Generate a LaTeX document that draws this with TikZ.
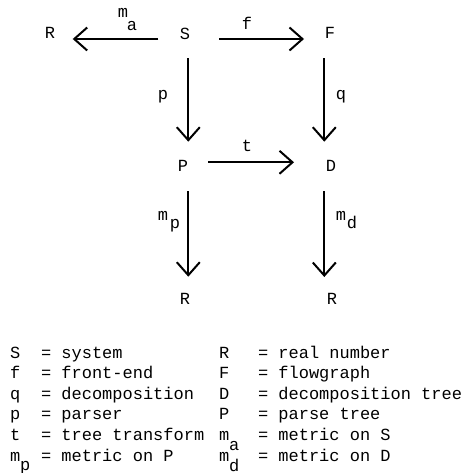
\documentclass[tikz,border=0pt]{standalone}
\usepackage{fontspec}
\newfontfamily\tw{Liberation Mono}
\usetikzlibrary{arrows.meta}
\begin{document}
\begin{tikzpicture}[x=1pt,y=-1pt,
  every node/.style={inner sep=0pt, outer sep=0pt, font=\tw\fontsize{17}{17}\selectfont},
  obj/.style={anchor=center},
  lab/.style={anchor=center},
  leg/.style={anchor=base west},
  arr/.style={line width=2pt, -{Straight Barb[length=13pt,width=23pt]}}]
\useasboundingbox (0,0) rectangle (468,473);
% objects
\node[obj] (R1) at (50,33) {R};
\node[obj] (S)  at (185,34) {S};
\node[obj] (F)  at (330,33) {F};
\node[obj] (P)  at (183,166) {P};
\node[obj] (D)  at (331,166) {D};
\node[obj] (R2) at (185,299) {R};
\node[obj] (R3) at (332,299) {R};
% arrows
\draw[arr] ([shift={(-26.7,5)}]S.center) -- ([shift={(22.7,6)}]R1.center);
\draw[arr] ([shift={(34,5)}]S.center) -- ([shift={(-26,6)}]F.center);
\draw[arr] ([shift={(3.3,24.3)}]S.center) -- ([shift={(5.3,-24.3)}]P.center);
\draw[arr] ([shift={(-5.7,25.3)}]F.center) -- ([shift={(-6.7,-24.3)}]D.center);
\draw[arr] ([shift={(25.3,-3.7)}]P.center) -- ([shift={(-37,-3.7)}]D.center);
\draw[arr] ([shift={(5.3,25)}]P.center) -- ([shift={(3.3,-22.3)}]R2.center);
\draw[arr] ([shift={(-6.7,25)}]D.center) -- ([shift={(-7.7,-22)}]R3.center);
% labels
\node[lab] (lma) at (123,13) {m};
\node[lab] (lmasub) at (132,26) {a};
\node[lab] (lf) at (247,23) {f};
\node[lab] (lp) at (163,97) {p};
\node[lab] (lq) at (341,97) {q};
\node[lab] (lt) at (247,146) {t};
\node[lab] (lmp) at (163,216) {m};
\node[lab] (lmpsub) at (175,226) {p};
\node[lab] (lmd) at (341,216) {m};
\node[lab] (lmdsub) at (352,222) {d};
% legend left
\node[leg] (ls1) at (10,358) {S};
\node[leg] (le1) at (41,358) {= system};
\node[leg] (ls2) at (10,378.6) {f};
\node[leg] (le2) at (41,378.6) {= front-end};
\node[leg] (ls3) at (10,399.2) {q};
\node[leg] (le3) at (41,399.2) {= decomposition};
\node[leg] (ls4) at (10,419.8) {p};
\node[leg] (le4) at (41,419.8) {= parser};
\node[leg] (ls5) at (10,440.4) {t};
\node[leg] (le5) at (41,440.4) {= tree transform};
\node[leg] (ls6) at (10,461) {m};
\node[leg] (ls6sub) at (20,470) {p};
\node[leg] (le6) at (41,461) {= metric on P};
% legend right
\node[leg] (rs1) at (219,358) {R};
\node[leg] (re1) at (258,358) {= real number};
\node[leg] (rs2) at (219,378.6) {F};
\node[leg] (re2) at (258,378.6) {= flowgraph};
\node[leg] (rs3) at (219,399.2) {D};
\node[leg] (re3) at (258,399.2) {= decomposition tree};
\node[leg] (rs4) at (219,419.8) {P};
\node[leg] (re4) at (258,419.8) {= parse tree};
\node[leg] (rs5) at (219,440.4) {m};
\node[leg] (rs5sub) at (229,450) {a};
\node[leg] (re5) at (258,440.4) {= metric on S};
\node[leg] (rs6) at (219,461) {m};
\node[leg] (rs6sub) at (229,471) {d};
\node[leg] (re6) at (258,461) {= metric on D};
\end{tikzpicture}
\end{document}
